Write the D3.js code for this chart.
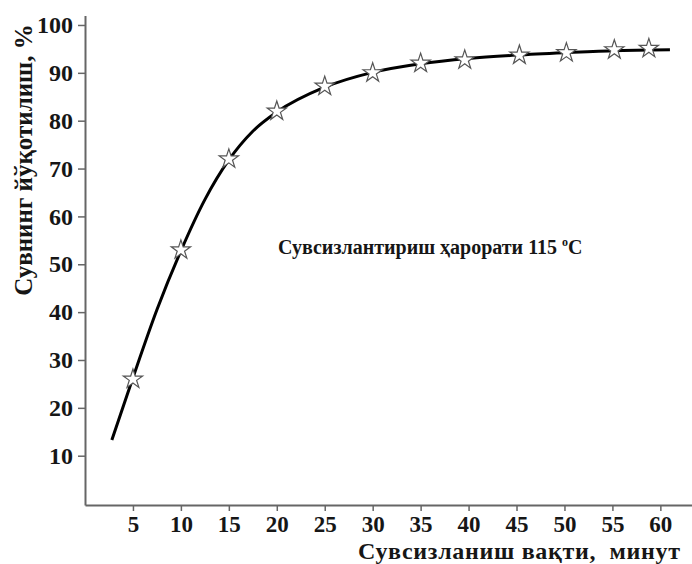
<!DOCTYPE html>
<html lang="uz">
<head>
  <meta charset="utf-8">
  <title>Сувнинг йўқотилиш</title>
  <script src="https://d3js.org/d3.v7.min.js"></script>
  <style>
    body { margin: 0; background: #fff; }
    text { font-family: "Liberation Serif", "Times New Roman", serif; font-weight: bold; fill: #161616; }
  </style>
</head>
<body>
  <div id="chart"></div>
  <script>
    // measured points (stars)
    var minutes = [5, 10, 15, 20, 25, 30, 35, 39.6, 45.3, 50.2, 55.2, 58.8];
    var waterLoss = [26.2, 53.2, 72.2, 82.2, 87.4, 90.2, 92.2, 92.9, 93.9, 94.4, 95.0, 95.3];

    // smooth fitted curve
    var curveT = [2.8, 5, 7.5, 10, 12.5, 15, 17.5, 20, 25, 30, 35, 40, 45, 50, 55, 61];
    var curveV = [13.3, 26.3, 40.5, 52.8, 63.5, 71.8, 77.8, 81.8, 87.0, 90.1, 91.9, 93.0, 93.7, 94.2, 94.6, 94.8];

    var xTicks = [5, 10, 15, 20, 25, 30, 35, 40, 45, 50, 55, 60];
    var yTicks = [10, 20, 30, 40, 50, 60, 70, 80, 90, 100];

    var W = 692, H = 564;
    var svg = d3.select("#chart").append("svg")
      .attr("width", W).attr("height", H);

    var x = d3.scaleLinear().domain([0, 63.3]).range([85, 692]);
    var y = d3.scaleLinear().domain([-0.3, 102]).range([505, 15.4]);

    // x axis
    var gx = svg.append("g")
      .attr("transform", "translate(0,505)")
      .call(d3.axisBottom(x).tickValues(xTicks).tickSize(6).tickSizeOuter(0).tickPadding(5));
    gx.select(".domain").attr("stroke", "#666").attr("stroke-width", 2);
    gx.selectAll(".tick line").attr("stroke", "#666").attr("stroke-width", 1.5);
    gx.selectAll(".tick text").style("font-size", "23px").attr("fill", "#161616");

    // y axis
    var gy = svg.append("g")
      .attr("transform", "translate(85,0)")
      .call(d3.axisLeft(y).tickValues(yTicks).tickSize(7).tickSizeOuter(0).tickPadding(5));
    gy.select(".domain").attr("stroke", "#666").attr("stroke-width", 2);
    gy.selectAll(".tick line").attr("stroke", "#666").attr("stroke-width", 1.5);
    gy.selectAll(".tick text").style("font-size", "24px").attr("fill", "#161616");

    // curve
    var line = d3.line()
      .x(function (d) { return x(d[0]); })
      .y(function (d) { return y(d[1]); })
      .curve(d3.curveMonotoneX);
    svg.append("path")
      .datum(curveT.map(function (t, i) { return [t, curveV[i]]; }))
      .attr("d", line)
      .attr("fill", "none")
      .attr("stroke", "#000")
      .attr("stroke-width", 3);

    // stars
    svg.selectAll(".star")
      .data(minutes.map(function (t, i) { return [t, waterLoss[i]]; }))
      .enter().append("path")
      .attr("class", "star")
      .attr("transform", function (d) { return "translate(" + x(d[0]) + "," + (y(d[1]) + 1) + ")"; })
      .attr("d", d3.symbol().type(d3.symbolStar).size(115))
      .attr("fill", "#fff")
      .attr("stroke", "#555")
      .attr("stroke-width", 1.2);

    // annotation
    var ann = svg.append("text")
      .attr("x", 278).attr("y", 254)
      .style("font-size", "20px");
    ann.append("tspan").text("Сувсизлантириш ҳарорати 115 ");
    ann.append("tspan").attr("dy", -8).style("font-size", "12px").text("o");
    ann.append("tspan").attr("dy", 8).text("C");

    // axis titles
    svg.append("text")
      .attr("x", 358).attr("y", 559)
      .style("font-size", "24px")
      .attr("xml:space", "preserve")
      .attr("textLength", 322)
      .attr("lengthAdjust", "spacing")
      .text("Сувсизланиш вақти,  минут");

    svg.append("text")
      .attr("transform", "translate(32,160) rotate(-90)")
      .attr("text-anchor", "middle")
      .style("font-size", "25px")
      .text("Сувнинг йўқотилиш, %");
  </script>
</body>
</html>
